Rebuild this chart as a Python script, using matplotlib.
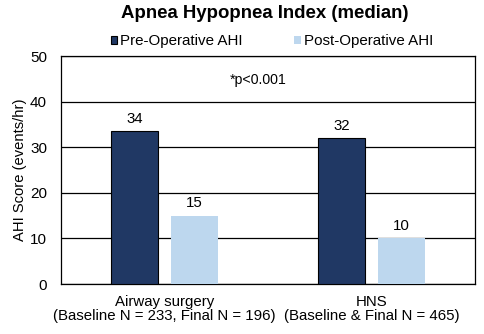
import numpy as np
import matplotlib.pyplot as plt

plt.rcParams['font.family'] = ['Liberation Sans', 'DejaVu Sans']

# data
groups = ['Airway surgery\n(Baseline N = 233, Final N = 196)',
          'HNS\n(Baseline & Final N = 465)']
pre_ahi = [33.5, 32]
post_ahi = [15, 10]
pre_labels = ['34', '32']
post_labels = ['15', '10']

x = np.arange(len(groups))
w = 0.227
off = 0.143

fig = plt.figure(figsize=(4.85, 3.34), dpi=100)
ax = fig.add_axes([61/485, 1-284/334, 414/485, 228/334])

b1 = ax.bar(x - off, pre_ahi, w, color='#203864', edgecolor='black', linewidth=0.8,
            label='Pre-Operative AHI', zorder=3)
b2 = ax.bar(x + off, post_ahi, w, color='#BDD7EE', label='Post-Operative AHI', zorder=3)

# value labels above bars
for rect, lab in zip(b1, pre_labels):
    ax.text(rect.get_x() + rect.get_width()/2, rect.get_height() + 2.7, lab,
            ha='center', va='center', fontsize=10.8)
for rect, lab in zip(b2, post_labels):
    ax.text(rect.get_x() + rect.get_width()/2, rect.get_height() + 2.7, lab,
            ha='center', va='center', fontsize=10.8)

ax.text(0.454, 44.7, '*p<0.001', ha='center', va='center', fontsize=10.2)

ax.set_xlim(-0.5, 1.5)
ax.set_ylim(0, 50)
ax.set_yticks(range(0, 51, 10))
ax.set_xticks(x)
ax.set_xticklabels(groups, fontsize=10.8, linespacing=1.0)
ax.tick_params(axis='y', labelsize=11, length=0, pad=10)
ax.tick_params(axis='x', length=0, pad=8)
ax.set_ylabel('AHI Score (events/hr)', fontsize=10.6, labelpad=2)
ax.grid(axis='y', color='black', linewidth=0.9, zorder=0)
for s in ax.spines.values():
    s.set_color('black')
    s.set_linewidth(0.9)

fig.text(265/485, 1-13/334, 'Apnea Hypopnea Index (median)', ha='center', va='center',
         fontsize=13.4, fontweight='bold')
ax.legend(loc='center', bbox_to_anchor=(272/485, 1-41/334), bbox_transform=fig.transFigure,
          ncol=2, frameon=False, fontsize=10.9, handlelength=0.42, handleheight=0.42,
          handletextpad=0.2, columnspacing=3.4)

fig.savefig('out.png', dpi=100)
